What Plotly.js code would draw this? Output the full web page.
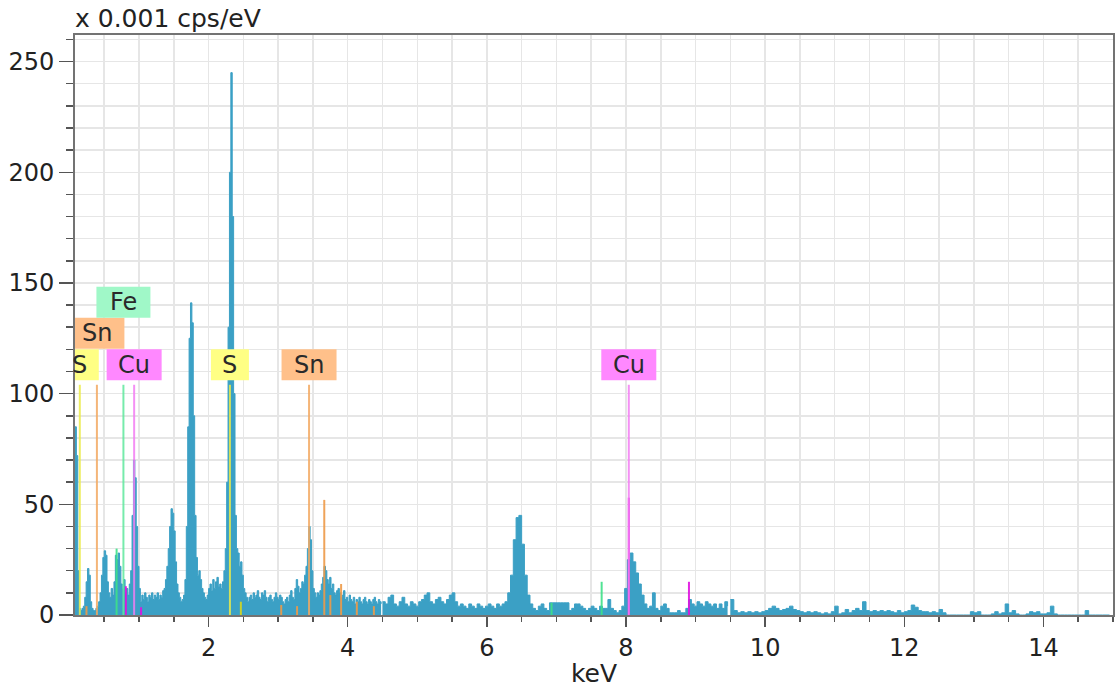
<!DOCTYPE html>
<html>
<head>
<meta charset="utf-8">
<script src="https://cdn.plot.ly/plotly-3.0.1.min.js"></script>
<style>html,body{margin:0;padding:0;background:#fff;}#chart{width:1115px;height:693px;}</style>
</head>
<body>
<div id="chart"></div>
<script>
// ---- Spectrum data (x 0.001 cps/eV), channel start energy + channel width in keV ----
const seg1Start = 0.08, seg1Step = 0.02;
const seg1Counts = [
  85, 72, 20, 3, 2, 3, 4, 8, 15, 21,
  18, 6, 3, 2, 2, 3, 4, 6, 10, 18,
  26, 29, 27, 15, 10, 8, 12, 9, 15, 27,
  25, 28, 22, 14, 12, 16, 10, 12, 9, 14,
  20, 45, 70, 62, 40, 22, 12, 6, 9, 7,
  10, 8, 6, 9, 8, 10, 7, 9, 8, 10,
  7, 9, 8, 11, 12, 16, 22, 30, 40, 48,
  46, 38, 24, 14, 10, 8, 6, 7, 9, 16,
  40, 85, 125, 141, 132, 90, 45, 26, 18, 20,
  16, 12, 10, 8, 7, 9, 12, 14, 11, 16,
  12, 15, 17, 13, 14, 12, 15, 20, 30, 60,
  130, 200, 245, 180, 100, 45, 30, 28, 22, 24,
  18, 12, 10, 8, 6, 8, 9, 7, 10, 8,
  9, 11, 8, 7, 10, 9, 11, 8, 6, 8,
  9, 7, 6, 8, 10, 8, 7, 9, 8, 6,
  5, 7, 8, 6, 9, 11, 8, 7, 12, 16,
  13, 10, 12, 15, 14, 18, 22, 30, 40, 34,
  20, 12, 10, 8, 10, 9, 11, 14, 17, 22,
  20, 16, 14, 17, 12, 14, 10, 9, 11, 12,
  10, 8, 9, 11, 7, 8, 6, 9, 7, 6,
  8, 5, 7, 6, 8, 6, 5, 7, 8, 6,
  5, 7, 6, 5, 7, 8, 6, 5, 7, 6,
  5
];
const seg2Start = 4.50, seg2Step = 0.04;
const seg2Counts = [
  6, 5, 8, 9, 5, 4, 6, 8, 5, 4,
  6, 5, 4, 6, 7, 9, 10, 6, 5, 7,
  8, 6, 5, 7, 9, 10, 6, 4, 5, 4,
  3, 5, 4, 3, 5, 4, 3, 4, 5, 4,
  3, 5, 4, 5, 6, 10, 18, 34, 44, 45,
  32, 18, 9, 5, 3, 2, 4, 5, 3, 2,
  5.5, 5.5, 5.5, 5.5, 5.5, 5.5, 5.5, 2, 3, 5,
  5, 4, 3, 2, 3, 4, 3, 2, 4, 3,
  3, 7, 3, 2, 1, 2, 4, 12, 25, 28,
  24, 19, 14, 9, 5, 3, 4, 10, 3, 2,
  4, 5, 3, 1, 1, 1, 2, 1, 1, 3,
  7, 5, 4, 6, 5, 4, 6, 5, 4, 5,
  3, 5, 3, 6, 4
];
const seg3Start = 9.50, seg3Step = 0.05;
const seg3Counts = [
  7, 2, 1, 1.5, 1, 1.5, 1, 1.5, 1, 1.5,
  2, 3, 4, 3, 2, 2.5, 3, 4, 2.5, 2,
  1.5, 1, 1.5, 1, 1.5, 1, 0.5, 1, 0.5, 1.5,
  4, 0.5, 1, 2.5, 1, 2, 3, 2, 6, 2,
  1.5, 2, 1.5, 2, 1.5, 2, 1.5, 1, 2, 1,
  1.5, 2, 4.5, 3.5, 2, 1.5, 1.5, 1, 1.5, 1,
  2.5, 1, 0, 0, 0, 0, 0, 0, 0, 1.5,
  1, 1.5, 0, 0, 0, 0.5, 1.5, 0.5, 1, 5,
  1, 2, 0.5, 0, 0, 0.5, 1.5, 1, 1.5, 0.5,
  0.5, 1, 4, 0.5, 0, 0, 0, 0, 0, 0,
  0, 0, 2, 0, 0, 0, 0, 0, 0, 0
];

// ---- Element marker lines (keV, height) ----
const labelElements = ['S', 'Sn', 'Fe', 'Cu', 'S', 'Sn', 'Cu'];
const labelEnergies = [0.149, 0.395, 0.776, 0.930, 2.307, 3.444, 8.040];
const labelLineHeight = 104;
const minorElements = ['S', 'Sn', 'Sn', 'Sn', 'Sn', 'Sn', 'Sn', 'Sn', 'Sn', 'Fe', 'Fe', 'Fe', 'Cu', 'Cu', 'Cu', 'Cu'];
const minorEnergies = [2.464, 0.245, 3.044, 3.272, 3.663, 3.750, 3.905, 4.131, 4.376, 0.678, 6.930, 7.650, 0.811, 1.030, 8.040, 8.905];
const minorHeights  = [6, 4, 4.5, 4, 52, 9, 14, 6, 4, 30, 5.5, 15, 13, 3.5, 53, 15];

// ---- Styles ----
const elementStyle = {
  S:  {line: '#ecec4a', minor: '#d6d61e', box: '#ffff84', w: 38},
  Sn: {line: '#f2a860', minor: '#ee9a48', box: '#ffc08a', w: 55},
  Fe: {line: '#5ee89c', minor: '#3ee088', box: '#a0f8c8', w: 54},
  Cu: {line: '#f27cf2', minor: '#e010e0', box: '#ff88ff', w: 55}
};
const labelRow = [0, 1, 2, 0, 0, 0, 0];
const rowY = [113, 127.3, 141.3];
const specColor = '#3ba0c5';

const traces = [];
[[seg1Start, seg1Step, seg1Counts], [seg2Start, seg2Step, seg2Counts], [seg3Start, seg3Step, seg3Counts]].forEach(s => {
  traces.push({type: 'scatter', mode: 'lines', x0: s[0], dx: s[1], y: s[2],
    line: {shape: 'hv', color: specColor, width: 1}, fill: 'tozeroy', fillcolor: specColor,
    hoverinfo: 'skip', showlegend: false});
});

// minor lines per element
Object.keys(elementStyle).forEach(el => {
  const xs = [], ys = [];
  minorElements.forEach((m, i) => { if (m === el) { xs.push(minorEnergies[i], minorEnergies[i], null); ys.push(0, minorHeights[i], null); } });
  if (xs.length) traces.push({type: 'scatter', mode: 'lines', x: xs, y: ys, line: {color: elementStyle[el].minor, width: 2},
    opacity: 0.9, hoverinfo: 'skip', showlegend: false});
});
// label lines
Object.keys(elementStyle).forEach(el => {
  const xs = [], ys = [];
  labelElements.forEach((m, i) => { if (m === el) { xs.push(labelEnergies[i], labelEnergies[i], null); ys.push(0, labelLineHeight, null); } });
  traces.push({type: 'scatter', mode: 'lines', x: xs, y: ys, line: {color: elementStyle[el].line, width: 2},
    opacity: 0.85, hoverinfo: 'skip', showlegend: false});
});

const shapes = labelElements.map((el, i) => ({
  type: 'rect', xref: 'x', yref: 'y', xsizemode: 'pixel', ysizemode: 'pixel',
  xanchor: labelEnergies[i], yanchor: rowY[labelRow[i]],
  x0: -elementStyle[el].w / 2, x1: elementStyle[el].w / 2, y0: -15.5, y1: 15.5,
  fillcolor: elementStyle[el].box, line: {width: 0}, layer: 'above'
}));
const annotations = labelElements.map((el, i) => ({
  xref: 'x', yref: 'y', x: labelEnergies[i], y: rowY[labelRow[i]], text: el, showarrow: false,
  font: {family: 'DejaVu Sans', size: 24, color: '#2a2a2a'}, xanchor: 'center', yanchor: 'middle'
}));

const gridCol = '#e6e6e6';
const layout = {
  width: 1115, height: 693,
  margin: {l: 75, r: 2, t: 35, b: 78},
  paper_bgcolor: '#ffffff', plot_bgcolor: '#ffffff',
  font: {family: 'DejaVu Sans', size: 24, color: '#222'},
  showlegend: false,
  title: {text: 'x 0.001 cps/eV', font: {family: 'DejaVu Sans', size: 25, color: '#222'},
    xref: 'paper', x: 0, xanchor: 'left', yref: 'container', y: 1 - 18 / 693, yanchor: 'middle', pad: {l: 0, t: 0, b: 0}},
  xaxis: {range: [0.08, 15], tickmode: 'linear', tick0: 0, dtick: 2, ticks: 'outside', ticklen: 10, tickwidth: 1.5,
    tickcolor: '#555', showline: true, linecolor: '#737373', linewidth: 2, mirror: true,
    showgrid: true, gridcolor: gridCol, gridwidth: 1.5, zeroline: false,
    tickfont: {size: 24, color: '#222'},
    minor: {tick0: 0, dtick: 0.5, ticks: 'outside', ticklen: 5, tickwidth: 1.5, tickcolor: '#555', showgrid: true, gridcolor: gridCol, gridwidth: 1.5},
    title: {text: 'keV', font: {size: 25, color: '#222'}, standoff: 4}},
  yaxis: {range: [0, 262], tickmode: 'linear', tick0: 0, dtick: 50, ticks: 'outside', ticklen: 14, tickwidth: 1.5,
    tickcolor: '#555', showline: true, linecolor: '#737373', linewidth: 2, mirror: true,
    showgrid: true, gridcolor: gridCol, gridwidth: 1.5, zeroline: false,
    tickfont: {size: 24, color: '#222'},
    minor: {tick0: 0, dtick: 10, ticks: 'outside', ticklen: 7, tickwidth: 1.5, tickcolor: '#555', showgrid: true, gridcolor: gridCol, gridwidth: 1.5}},
  shapes: shapes,
  annotations: annotations
};
Plotly.newPlot('chart', traces, layout, {displayModeBar: false, staticPlot: true});
</script>
</body>
</html>
